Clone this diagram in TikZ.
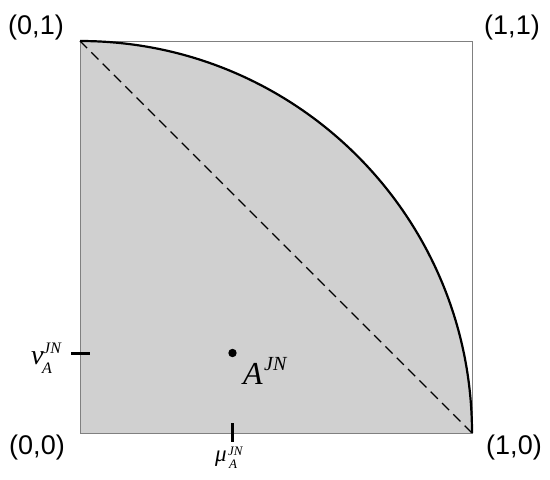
\documentclass[tikz,border=0pt]{standalone}
\usepackage{fontspec}
\setmainfont{Liberation Sans}
\newfontfamily\tms{Liberation Serif}
\definecolor{fillgray}{RGB}{208,208,208}
\definecolor{edgegray}{RGB}{128,128,128}
\begin{document}
\begin{tikzpicture}[x=1pt,y=-1pt,
  corner/.style={inner sep=0pt,font=\fontsize{27}{27}\selectfont},
  mlab/.style={inner sep=0pt,anchor=base west},
  tick/.style={line width=3pt},
]
\useasboundingbox (0,0) rectangle (550,480);
\coordinate (BL) at (80,433);
\coordinate (TL) at (80,41);
\coordinate (TR) at (472,41);
\coordinate (BR) at (472,433);
% filled quarter disc
\fill[fillgray] (BL) -- (TL) .. controls (296.5,41) and (472,216.5) .. (BR) -- cycle;
% square
\draw[edgegray,line width=1pt] (BL) rectangle (TR);
% dashed diagonal
\draw[dashed,dash pattern=on 10pt off 6pt,line width=1.4pt] (TL) -- (BR);
% arc
\draw[line width=2.2pt] (TL) .. controls (296.5,41) and (472,216.5) .. (BR);
% corner labels
\node[corner] (c01) at (36,28) {(0,1)};
\node[corner] (c11) at (512,28) {(1,1)};
\node[corner] (c00) at (37,448) {(0,0)};
\node[corner] (c10) at (514,448) {(1,0)};
% ticks
\coordinate (lt1) at (71,353);
\coordinate (lt2) at (90,353);
\coordinate (bt1) at (232,423);
\coordinate (bt2) at (232,442);
\draw[tick] (lt1) -- (lt2);
\draw[tick] (bt1) -- (bt2);
% point
\fill (232.5,353) circle (4.2pt);
% nu label
\node[mlab,font=\tms\itshape\fontsize{28}{28}\selectfont] (nu) at (31,364) {ν};
\node[mlab,font=\tms\itshape\fontsize{16}{16}\selectfont] (nusub) at (42,373) {A};
\node[mlab,font=\tms\itshape\fontsize{16}{16}\selectfont] (nusup) at (43,353) {JN};
% mu label
\node[mlab,font=\tms\itshape\fontsize{23}{23}\selectfont] (mu) at (215,461) {μ};
\node[mlab,font=\tms\itshape\fontsize{13}{13}\selectfont] (musub) at (229,468) {A};
\node[mlab,font=\tms\itshape\fontsize{13}{13}\selectfont] (musup) at (228,455) {JN};
% A label
\node[mlab,font=\tms\itshape\fontsize{32}{32}\selectfont] (A) at (243,384) {A};
\node[mlab,font=\tms\itshape\fontsize{20}{20}\selectfont] (Asup) at (264,370) {JN};
\end{tikzpicture}
\end{document}
